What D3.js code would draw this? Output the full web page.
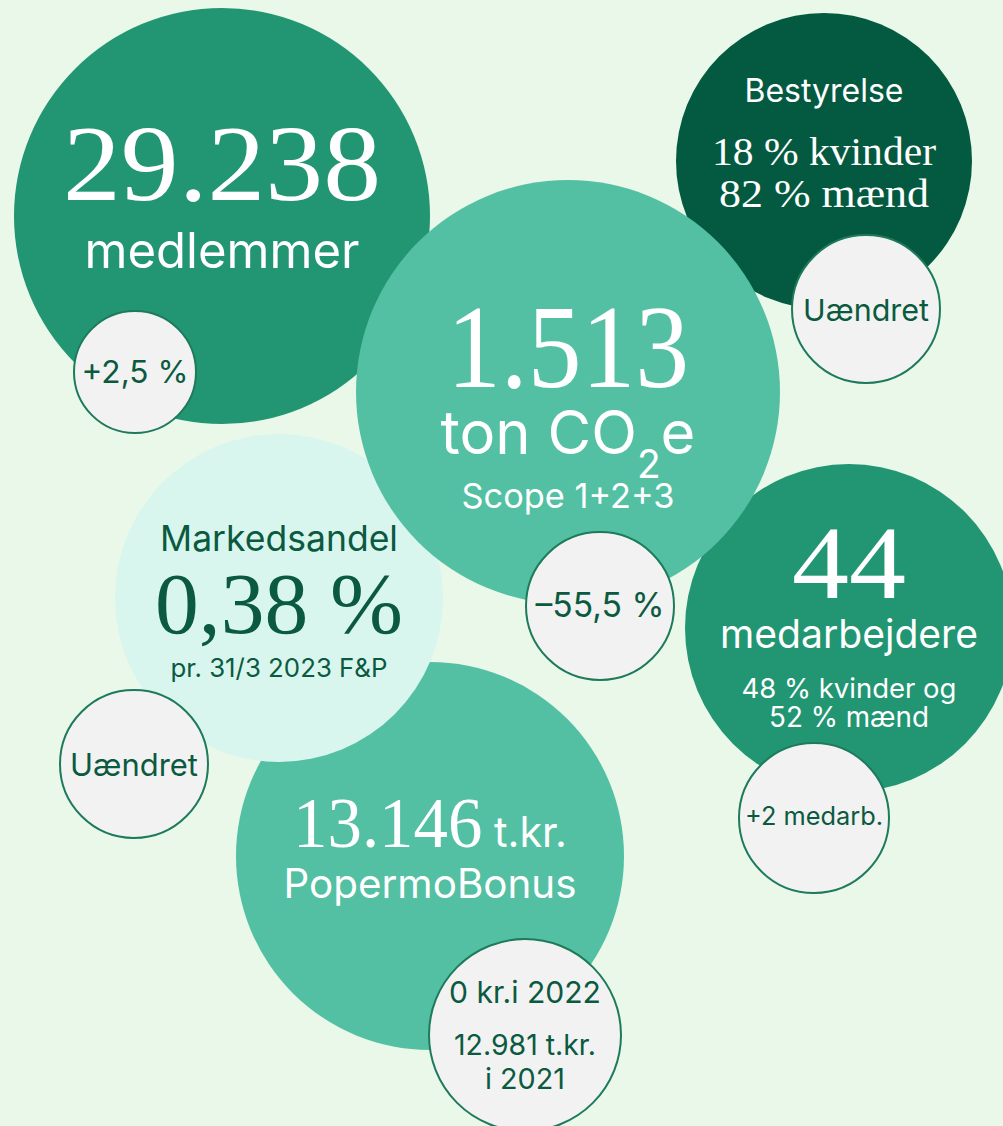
<!DOCTYPE html>
<html lang="da">
<head>
  <meta charset="UTF-8">
  <title>Nøgletal</title>
  <style>
    html, body {
      margin: 0;
      padding: 0;
      background: #e9f8e9;
      overflow: hidden;
    }
    #chart {
      display: block;
    }
  </style>
</head>
<body>
  <svg id="chart"></svg>

  <script src="https://d3js.org/d3.v7.min.js"></script>
  <script>
    const width = 1003;
    const height = 1126;

    // Data: the key figures and their texts
    const bubbles = ["medlemmer", "bestyrelse", "medarbejdere", "bonus", "markedsandel", "co2"];
    const bubbleLines = [
      ["29.238", "medlemmer"],
      ["Bestyrelse", "18 % kvinder", "82 % mænd"],
      ["44", "medarbejdere", "48 % kvinder og", "52 % mænd"],
      ["13.146| t.kr.", "PopermoBonus"],
      ["Markedsandel", "0,38 %", "pr. 31/3 2023 F&P"],
      ["1.513", "ton CO_2e", "Scope 1+2+3"]
    ];
    const changeLines = [
      ["+2,5 %"],
      ["Uændret"],
      ["+2 medarb."],
      ["0 kr.i 2022", "12.981 t.kr.", "i 2021"],
      ["Uændret"],
      ["–55,5 %"]
    ];

    // Layout (reference pixel space): circle, line styles and the little change bubbles
    // line = [font, baseline offset from centre, width, digit height (serif only)]
    const bubbleLayout = {
      medlemmer:    { cx: 222, cy: 216, r: 208, fill: "#229673", ink: "#ffffff",
                      lines: [["serif", -16, 318, 71], ["sans", 52, 275]] },
      bestyrelse:   { cx: 824, cy: 161, r: 148, fill: "#045a40", ink: "#ffffff",
                      lines: [["sans", -59, 159], ["serif", 4, 224, 27], ["serif", 46, 210, 27]] },
      medarbejdere: { cx: 849, cy: 628, r: 164, fill: "#229673", ink: "#ffffff",
                      lines: [["serif", -30, 114, 68], ["sans", 20, 258], ["sans", 70, 215], ["sans", 99, 160]] },
      bonus:        { cx: 430, cy: 856, r: 194, fill: "#53c0a3", ink: "#ffffff",
                      lines: [["serif", -9, 274, 47], ["sans", 42, 293]] },
      markedsandel: { cx: 279, cy: 598, r: 164, fill: "#d8f6ee", ink: "#0b5a3f",
                      lines: [["sans", -47, 238], ["serif", 35, 248, 58], ["sans", 79, 217]] },
      co2:          { cx: 568, cy: 392, r: 212, fill: "#53c0a3", ink: "#ffffff",
                      lines: [["serif", -5, 242, 79], ["sans", 62, 255], ["sans", 116, 213]] }
    };
    const changeLayout = {
      medlemmer:    { cx: 135, cy: 372, r: 61, lines: [[11, 107]] },
      bestyrelse:   { cx: 866, cy: 309, r: 74, lines: [[12, 126]] },
      medarbejdere: { cx: 814, cy: 818, r: 75, lines: [[7, 138]] },
      bonus:        { cx: 525, cy: 1035, r: 96, lines: [[-32, 152], [20, 142], [54, 80]] },
      markedsandel: { cx: 134, cy: 764, r: 74, lines: [[12, 128]] },
      co2:          { cx: 600, cy: 606, r: 74, lines: [[11, 129]] }
    };
    // order in which the big circles are stacked (later = on top)
    const stacking = ["medlemmer", "bestyrelse", "medarbejdere", "bonus", "markedsandel", "co2"];

    const fonts = {
      serif: "'Liberation Serif', 'DejaVu Serif', serif",
      sans: "Inter, 'Noto Sans', sans-serif"
    };
    const baseSize = 40;
    const serifDigitHeight = 0.662 * baseSize;

    const x = d3.scaleLinear().domain([0, 1003]).range([0, width]);
    const y = d3.scaleLinear().domain([0, 1126]).range([0, height]);

    const svg = d3.select("#chart")
      .attr("width", width)
      .attr("height", height);

    svg.append("rect")
      .attr("width", width)
      .attr("height", height)
      .attr("fill", "#e9f8e9");

    // write one line, then scale it so it is as wide (and tall) as in the picture
    function addLine(g, str, font, dy, targetW, targetH, ink) {
      const text = g.append("text")
        .attr("text-anchor", "middle")
        .attr("fill", ink)
        .attr("font-family", fonts[font])
        .attr("font-size", baseSize);

      if (str.includes("|")) {
        // serif number followed by a sans unit
        const parts = str.split("|");
        text.append("tspan").attr("font-family", fonts.serif).text(parts[0]);
        text.append("tspan").attr("font-family", fonts.sans).attr("font-size", 24).text(parts[1]);
      } else if (str.includes("_")) {
        // subscript, like CO2
        const [before, rest] = str.split("_");
        text.append("tspan").text(before);
        text.append("tspan").attr("font-size", 26).attr("dy", 16).text(rest[0]);
        text.append("tspan").attr("dy", -16).text(rest.slice(1));
      } else {
        text.text(str);
      }

      const w = text.node().getComputedTextLength();
      const kx = x(targetW) / w;
      const ky = targetH ? y(targetH) / serifDigitHeight : kx;
      text.attr("transform", `translate(0,${y(dy)}) scale(${kx},${ky})`);
    }

    // big circles
    stacking.forEach(name => {
      const i = bubbles.indexOf(name);
      const L = bubbleLayout[name];
      const g = svg.append("g")
        .attr("class", "bubble " + name)
        .attr("transform", `translate(${x(L.cx)},${y(L.cy)})`);

      g.append("circle")
        .attr("r", x(L.r))
        .attr("fill", L.fill);

      bubbleLines[i].forEach((str, j) => {
        const [font, dy, w, h] = L.lines[j];
        addLine(g, str, font, dy, w, h, L.ink);
      });
    });

    // change bubbles on top
    bubbles.forEach((name, i) => {
      const L = changeLayout[name];
      const g = svg.append("g")
        .attr("class", "change " + name)
        .attr("transform", `translate(${x(L.cx)},${y(L.cy)})`);

      g.append("circle")
        .attr("r", x(L.r))
        .attr("fill", "#f2f2f2")
        .attr("stroke", "#1d7a5b")
        .attr("stroke-width", 2);

      changeLines[i].forEach((str, j) => {
        const [dy, w] = L.lines[j];
        addLine(g, str, "sans", dy, w, null, "#0b5a3f");
      });
    });
  </script>
</body>
</html>
